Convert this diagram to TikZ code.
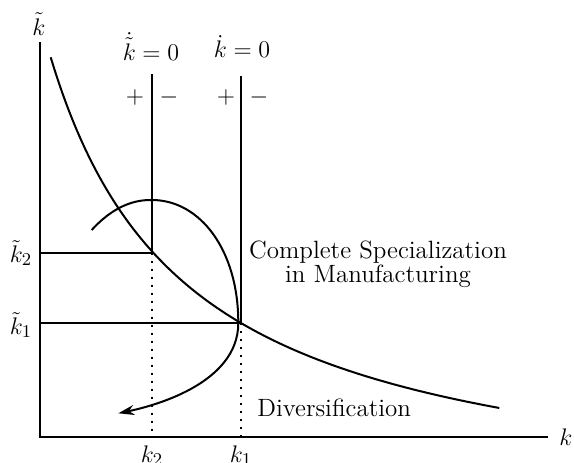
\documentclass[tikz,border=0pt]{standalone}
\usetikzlibrary{arrows.meta}
\begin{document}
\begin{tikzpicture}[x=0.5pt,y=-0.5pt,
  every node/.style={font=\fontsize{12.5}{12.4}\selectfont, inner sep=0pt},
  axisline/.style={line width=1pt},
  guide/.style={line width=1pt},
  dotguide/.style={line width=1pt, dash pattern=on 1pt off 3pt},
  curveline/.style={line width=1pt},
  pathline/.style={line width=1pt, -{Stealth[length=8pt,width=5pt]}}]
\useasboundingbox (0,0) rectangle (574,462);
% coordinates
\coordinate (O) at (39.5,437);
\coordinate (Ytop) at (39.5,42);
\coordinate (Xend) at (548,437);
\coordinate (A) at (152,252.5);
\coordinate (B) at (241,323);
\coordinate (Atop) at (152,74);
\coordinate (Btop) at (241,76);
\coordinate (Abot) at (152,437);
\coordinate (Bbot) at (241,437);
\coordinate (Aleft) at (39.5,252.5);
\coordinate (Bleft) at (39.5,323);
\coordinate (S0) at (91.7,230);
\coordinate (S1) at (152,200);
\coordinate (S2) at (238.3,323.3);
\coordinate (S3) at (118.3,413.3);
% axes
\draw[axisline] (Ytop) -- (O) -- (Xend);
% guides
\draw[guide] (Atop) -- (A) -- (Aleft);
\draw[guide] (Btop) -- (B) -- (Bleft);
\draw[dotguide] (A) -- (Abot);
\draw[dotguide] (B) -- (Bbot);
% hyperbola
\draw[curveline] plot[domain=50.7:499.3, samples=120] (\x, {516 - 633.9*(100/(\x + 87.5))});
% spiral path
\draw[pathline] (S0) .. controls (110,210) and (130,199.5) .. (S1)
  .. controls (200,200) and (238.5,250) .. (S2)
  .. controls (238,385) and (150,406.7) .. (S3);
% labels
\node (ylab) at (39,24) {$\tilde k$};
\node[anchor=base] (xlab) at (566,445) {$k$};
\node[anchor=base] (lab1) at (151,60) {$\dot{\tilde k}=0$};
\node[anchor=base] (lab2) at (242,57.5) {$\dot k=0$};
\node (p1) at (135,97) {$+$};
\node (m1) at (169,97) {$-$};
\node (p2) at (226,97) {$+$};
\node (m2) at (259,97) {$-$};
\node (k2t) at (21,253) {$\tilde k_2$};
\node (k1t) at (21,325) {$\tilde k_1$};
\node[anchor=base] (k2) at (152,462) {$k_2$};
\node[anchor=base] (k1) at (241,462) {$k_1$};
\node[anchor=base west] (div) at (257,416.7) {Diversification};
\node[anchor=base] (cs1) at (378,258) {Complete Specialization};
\node[anchor=base] (cs2) at (378,282.7) {in Manufacturing};
\end{tikzpicture}
\end{document}
